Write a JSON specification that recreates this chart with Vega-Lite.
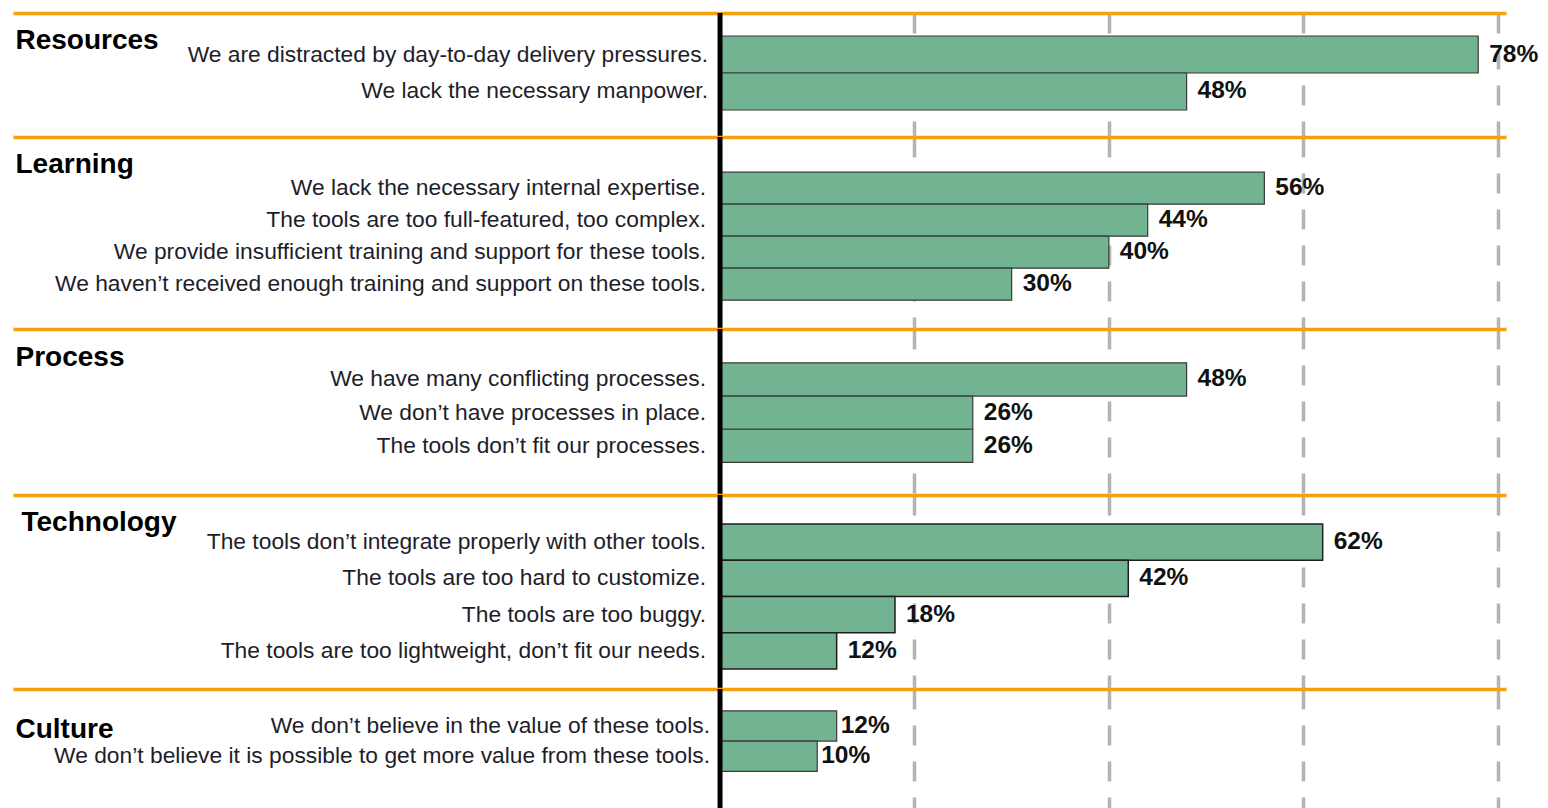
{
  "$schema": "https://vega.github.io/schema/vega-lite/v6.json",
  "padding": {"left": 13, "top": 10, "right": 0, "bottom": 0},
  "bounds": "flush",
  "spacing": 0,
  "background": "white",
  "config": {
    "font": "Liberation Sans",
    "view": {"stroke": null},
    "axisY": {
      "labels": false, "ticks": false, "domain": false, "grid": false,
      "titleAngle": 0, "titleAlign": "left", "titleBaseline": "middle",
      "titleX": 2, "titleFontSize": 28, "titleFontWeight": "bold",
      "titleFont": "Liberation Sans", "titleColor": "#000000"
    }
  },
  "datasets": {
    "survey": [
      {"group": "Resources", "item": "We are distracted by day-to-day delivery pressures.", "value": 0.78},
      {"group": "Resources", "item": "We lack the necessary manpower.", "value": 0.48},
      {"group": "Learning", "item": "We lack the necessary internal expertise.", "value": 0.56},
      {"group": "Learning", "item": "The tools are too full-featured, too complex.", "value": 0.44},
      {"group": "Learning", "item": "We provide insufficient training and support for these tools.", "value": 0.40},
      {"group": "Learning", "item": "We haven’t received enough training and support on these tools.", "value": 0.30},
      {"group": "Process", "item": "We have many conflicting processes.", "value": 0.48},
      {"group": "Process", "item": "We don’t have processes in place.", "value": 0.26},
      {"group": "Process", "item": "The tools don’t fit our processes.", "value": 0.26},
      {"group": "Technology", "item": "The tools don’t integrate properly with other tools.", "value": 0.62},
      {"group": "Technology", "item": "The tools are too hard to customize.", "value": 0.42},
      {"group": "Technology", "item": "The tools are too buggy.", "value": 0.18},
      {"group": "Technology", "item": "The tools are too lightweight, don’t fit our needs.", "value": 0.12},
      {"group": "Culture", "item": "We don’t believe in the value of these tools.", "value": 0.12},
      {"group": "Culture", "item": "We don’t believe it is possible to get more value from these tools.", "value": 0.10}
    ]
  },
  "vconcat": [
    {
      "width": 1493, "height": 124,
      "data": {"name": "survey"},
      "transform": [{"filter": "datum.group === 'Resources'"}],
      "layer": [
        {"mark": {"type": "bar", "fill": "#72b491", "stroke": "#3a3a3a", "strokeWidth": 1.2},
         "encoding": {
           "x": {"field": "value", "type": "quantitative", "scale": {"domain": [-0.7274, 0.8086], "nice": false},
                 "axis": {"orient": "top", "values": [0.2, 0.4, 0.6, 0.8], "labels": false, "ticks": false, "title": null,
                          "domainColor": "#f5a00f", "domainWidth": 3.5, "grid": true, "gridColor": "#b4b4b4", "gridWidth": 3.5, "gridDash": [20, 16]}},
           "y": {"field": "item", "type": "nominal", "sort": null, "scale": {"paddingInner": 0, "paddingOuter": 0.676, "align": 0.46},
                 "axis": {"title": "Resources", "titleY": 27}}}},
        {"mark": {"type": "text", "align": "right", "dx": -12, "fontSize": 22.8, "color": "#1e1e2a", "font": "Liberation Sans"},
         "encoding": {"x": {"datum": 0}, "y": {"field": "item", "type": "nominal", "sort": null}, "text": {"field": "item"}}},
        {"mark": {"type": "text", "align": "left", "dx": 11, "fontSize": 24.5, "fontWeight": "bold", "color": "#111", "font": "Liberation Sans"},
         "encoding": {"x": {"field": "value", "type": "quantitative"}, "y": {"field": "item", "type": "nominal", "sort": null}, "text": {"field": "value", "format": ".0%"}}},
        {"data": {"values": [{}]}, "mark": {"type": "rule", "strokeWidth": 5, "color": "#000000"}, "encoding": {"x": {"datum": 0}}}
      ]
    },
    {
      "width": 1493, "height": 192,
      "data": {"name": "survey"},
      "transform": [{"filter": "datum.group === 'Learning'"}],
      "layer": [
        {"mark": {"type": "bar", "fill": "#72b491", "stroke": "#3a3a3a", "strokeWidth": 1.2},
         "encoding": {
           "x": {"field": "value", "type": "quantitative", "scale": {"domain": [-0.7274, 0.8086], "nice": false},
                 "axis": {"orient": "top", "values": [0.2, 0.4, 0.6, 0.8], "labels": false, "ticks": false, "title": null,
                          "domainColor": "#f5a00f", "domainWidth": 3.5, "grid": true, "gridColor": "#b4b4b4", "gridWidth": 3.5, "gridDash": [20, 16]}},
           "y": {"field": "item", "type": "nominal", "sort": null, "scale": {"paddingInner": 0, "paddingOuter": 1.02, "align": 0.55},
                 "axis": {"title": "Learning", "titleY": 27}}}},
        {"mark": {"type": "text", "align": "right", "dx": -14, "fontSize": 22.8, "color": "#1e1e2a", "font": "Liberation Sans"},
         "encoding": {"x": {"datum": 0}, "y": {"field": "item", "type": "nominal", "sort": null}, "text": {"field": "item"}}},
        {"mark": {"type": "text", "align": "left", "dx": 11, "fontSize": 24.5, "fontWeight": "bold", "color": "#111", "font": "Liberation Sans"},
         "encoding": {"x": {"field": "value", "type": "quantitative"}, "y": {"field": "item", "type": "nominal", "sort": null}, "text": {"field": "value", "format": ".0%"}}},
        {"data": {"values": [{}]}, "mark": {"type": "rule", "strokeWidth": 5, "color": "#000000"}, "encoding": {"x": {"datum": 0}}}
      ]
    },
    {
      "width": 1493, "height": 166,
      "data": {"name": "survey"},
      "transform": [{"filter": "datum.group === 'Process'"}],
      "layer": [
        {"mark": {"type": "bar", "fill": "#72b491", "stroke": "#3a3a3a", "strokeWidth": 1.2},
         "encoding": {
           "x": {"field": "value", "type": "quantitative", "scale": {"domain": [-0.7274, 0.8086], "nice": false},
                 "axis": {"orient": "top", "values": [0.2, 0.4, 0.6, 0.8], "labels": false, "ticks": false, "title": null,
                          "domainColor": "#f5a00f", "domainWidth": 3.5, "grid": true, "gridColor": "#b4b4b4", "gridWidth": 3.5, "gridDash": [20, 16]}},
           "y": {"field": "item", "type": "nominal", "sort": null, "scale": {"paddingInner": 0, "paddingOuter": 1.09, "align": 0.51},
                 "axis": {"title": "Process", "titleY": 28}}}},
        {"mark": {"type": "text", "align": "right", "dx": -14, "fontSize": 22.8, "color": "#1e1e2a", "font": "Liberation Sans"},
         "encoding": {"x": {"datum": 0}, "y": {"field": "item", "type": "nominal", "sort": null}, "text": {"field": "item"}}},
        {"mark": {"type": "text", "align": "left", "dx": 11, "fontSize": 24.5, "fontWeight": "bold", "color": "#111", "font": "Liberation Sans"},
         "encoding": {"x": {"field": "value", "type": "quantitative"}, "y": {"field": "item", "type": "nominal", "sort": null}, "text": {"field": "value", "format": ".0%"}}},
        {"data": {"values": [{}]}, "mark": {"type": "rule", "strokeWidth": 5, "color": "#000000"}, "encoding": {"x": {"datum": 0}}}
      ]
    },
    {
      "width": 1493, "height": 194,
      "data": {"name": "survey"},
      "transform": [{"filter": "datum.group === 'Technology'"}],
      "layer": [
        {"mark": {"type": "bar", "fill": "#72b491", "stroke": "#1e1e1e", "strokeWidth": 1.5},
         "encoding": {
           "x": {"field": "value", "type": "quantitative", "scale": {"domain": [-0.7274, 0.8086], "nice": false},
                 "axis": {"orient": "top", "values": [0.2, 0.4, 0.6, 0.8], "labels": false, "ticks": false, "title": null,
                          "domainColor": "#f5a00f", "domainWidth": 3.5, "grid": true, "gridColor": "#b4b4b4", "gridWidth": 3.5, "gridDash": [20, 16]}},
           "y": {"field": "item", "type": "nominal", "sort": null, "scale": {"paddingInner": 0, "paddingOuter": 0.676, "align": 0.59},
                 "axis": {"title": "Technology", "titleY": 27, "titleX": 8}}}},
        {"mark": {"type": "text", "align": "right", "dx": -14, "fontSize": 22.8, "color": "#1e1e2a", "font": "Liberation Sans"},
         "encoding": {"x": {"datum": 0}, "y": {"field": "item", "type": "nominal", "sort": null}, "text": {"field": "item"}}},
        {"mark": {"type": "text", "align": "left", "dx": 11, "fontSize": 24.5, "fontWeight": "bold", "color": "#111", "font": "Liberation Sans"},
         "encoding": {"x": {"field": "value", "type": "quantitative"}, "y": {"field": "item", "type": "nominal", "sort": null}, "text": {"field": "value", "format": ".0%"}}},
        {"data": {"values": [{}]}, "mark": {"type": "rule", "strokeWidth": 5, "color": "#000000"}, "encoding": {"x": {"datum": 0}}}
      ]
    },
    {
      "width": 1493, "height": 121,
      "data": {"name": "survey"},
      "transform": [{"filter": "datum.group === 'Culture'"}],
      "layer": [
        {"mark": {"type": "bar", "fill": "#72b491", "stroke": "#3a3a3a", "strokeWidth": 1.2},
         "encoding": {
           "x": {"field": "value", "type": "quantitative", "scale": {"domain": [-0.7274, 0.8086], "nice": false},
                 "axis": {"orient": "top", "values": [0.2, 0.4, 0.6, 0.8], "labels": false, "ticks": false, "title": null,
                          "domainColor": "#f5a00f", "domainWidth": 3.5, "grid": true, "gridColor": "#b4b4b4", "gridWidth": 3.5, "gridDash": [20, 16]}},
           "y": {"field": "item", "type": "nominal", "sort": null, "scale": {"paddingInner": 0, "paddingOuter": 1.05, "align": 0.36},
                 "axis": {"title": "Culture", "titleY": 40}}}},
        {"mark": {"type": "text", "align": "right", "dx": -10, "fontSize": 22.8, "color": "#1e1e2a", "font": "Liberation Sans"},
         "encoding": {"x": {"datum": 0}, "y": {"field": "item", "type": "nominal", "sort": null}, "text": {"field": "item"}}},
        {"mark": {"type": "text", "align": "left", "dx": 4, "fontSize": 24.5, "fontWeight": "bold", "color": "#111", "font": "Liberation Sans"},
         "encoding": {"x": {"field": "value", "type": "quantitative"}, "y": {"field": "item", "type": "nominal", "sort": null}, "text": {"field": "value", "format": ".0%"}}},
        {"data": {"values": [{}]}, "mark": {"type": "rule", "strokeWidth": 5, "color": "#000000"}, "encoding": {"x": {"datum": 0}}}
      ]
    }
  ]
}
